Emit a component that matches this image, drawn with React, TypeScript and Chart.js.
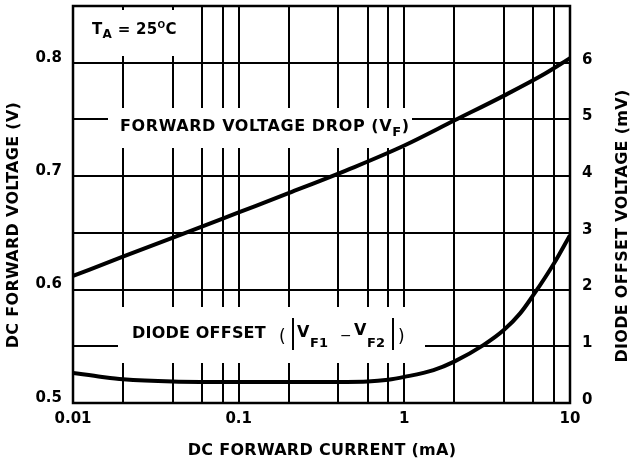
import { useEffect, useRef } from "react";
import { Chart, registerables } from "chart.js";

Chart.register(...registerables);

const FONT = '"DejaVu Sans"';

// Forward voltage drop V_F (V) vs DC forward current (mA)
const vfCurrent = [0.01, 0.02, 0.05, 0.1, 0.2, 0.5, 1, 2, 4, 7, 10];
const vfVoltage = [0.612, 0.629, 0.651, 0.668, 0.685, 0.708, 0.727, 0.749, 0.771, 0.79, 0.804];

// Diode offset |VF1 - VF2| (mV) vs DC forward current (mA)
const offCurrent = [0.01, 0.015, 0.02, 0.04, 0.1, 0.3, 0.6, 0.8, 1, 1.5, 2, 3, 4, 5, 6, 8, 10];
const offMillivolt = [0.53, 0.46, 0.42, 0.38, 0.37, 0.37, 0.38, 0.41, 0.46, 0.58, 0.73, 1.02, 1.29, 1.58, 1.9, 2.46, 2.96];

const currentGrid = [0.01, 0.02, 0.04, 0.06, 0.08, 0.1, 0.2, 0.4, 0.6, 0.8, 1, 2, 4, 6, 8, 10];
const currentTickLabels = ["0.01", "", "", "", "", "0.1", "", "", "", "", "1", "", "", "", "", "10"];
const voltGrid = [0.5, 0.55, 0.6, 0.65, 0.7, 0.75, 0.8, 0.85];
const voltTickLabels = ["0.5", "", "0.6", "", "0.7", "", "0.8", ""];
const offsetGrid = [0, 1, 2, 3, 4, 5, 6, 7];
const offsetTickLabels = ["0", "1", "2", "3", "4", "5", "6", ""];

const xTitle = "DC FORWARD CURRENT (mA)";
const yTitle = "DC FORWARD VOLTAGE (V)";
const y1Title = "DIODE OFFSET VOLTAGE (mV)";

const f = (size: number, weight = "bold") => `${weight} ${size}px ${FONT}`;

// draw a run of text pieces left to right, returns end x
const run = (ctx: any, x: number, parts: [string, string, number][]) => {
  let cx = x;
  for (const [t, font, y] of parts) {
    ctx.font = font;
    ctx.fillText(t, cx, y);
    cx += ctx.measureText(t).width;
  }
  return cx;
};

const annotate = {
  id: "annotate",
  beforeDatasetsDraw(chart: any) {
    const { ctx, chartArea: a } = chart;
    ctx.save();
    // white label boxes covering grid
    ctx.fillStyle = "#fff";
    ctx.fillRect(a.left + 2, a.top + 4, 123, 46);
    ctx.fillRect(108, 108, 304, 40);
    ctx.fillRect(118, 307, 307, 56);
    // frame
    ctx.strokeStyle = "#000";
    ctx.lineWidth = 2.5;
    ctx.strokeRect(a.left, a.top, a.right - a.left, a.bottom - a.top);

    ctx.fillStyle = "#000";
    ctx.textBaseline = "alphabetic";
    ctx.textAlign = "left";

    // T_A = 25°C
    ctx.letterSpacing = "0.3px";
    run(ctx, 92, [
      ["T", f(15), 34],
      ["A", f(12), 38],
      [" = 25", f(15), 34],
      ["O", f(9), 28],
      ["C", f(15), 34],
    ]);

    // FORWARD VOLTAGE DROP (V_F)
    ctx.letterSpacing = "0.6px";
    run(ctx, 120, [
      ["FORWARD VOLTAGE DROP (V", f(16), 131],
      ["F", f(13), 136],
      [")", f(16), 131],
    ]);

    // DIODE OFFSET (|VF1 - VF2|)
    ctx.letterSpacing = "0.2px";
    ctx.font = f(16);
    ctx.fillText("DIODE OFFSET", 132, 338);
    ctx.letterSpacing = "0px";
    ctx.font = f(17, "normal");
    ctx.fillText("(", 279, 342);
    ctx.fillRect(292, 318, 2, 32);
    ctx.font = f(16);
    ctx.fillText("V", 297, 337);
    ctx.font = f(13);
    ctx.fillText("F1", 310, 347);
    ctx.font = f(14, "normal");
    ctx.fillText("\u2212", 340, 340);
    ctx.font = f(16);
    ctx.fillText("V", 354, 335);
    ctx.font = f(13);
    ctx.fillText("F2", 367, 347);
    ctx.fillRect(392, 318, 2, 32);
    ctx.font = f(17, "normal");
    ctx.fillText(")", 398, 342);
    ctx.restore();
  },
  afterDraw(chart: any) {
    const { ctx } = chart;
    const title = (t: string, x: number, y: number, rot: number) => {
      ctx.save();
      ctx.fillStyle = "#000";
      ctx.font = f(16);
      ctx.letterSpacing = "0.3px";
      ctx.textAlign = "center";
      ctx.textBaseline = "middle";
      ctx.translate(x, y);
      ctx.rotate(rot);
      ctx.fillText(t, 0, 0);
      ctx.restore();
    };
    title(xTitle, 322, 451, 0);
    title(yTitle, 14, 225, -Math.PI / 2);
    title(y1Title, 623, 226, -Math.PI / 2);
  },
};

export default function App() {
  const ref = useRef<HTMLCanvasElement>(null);

  useEffect(() => {
    if (!ref.current) return;
    const tickFont = { family: FONT, size: 15, weight: "bold" as const };
    const chart = new Chart(ref.current, {
      type: "line",
      data: {
        datasets: [
          {
            label: "VF",
            data: vfCurrent.map((c, i) => ({ x: c, y: vfVoltage[i] })),
            yAxisID: "y",
            borderColor: "#000",
            borderWidth: 4,
            pointRadius: 0,
            cubicInterpolationMode: "monotone",
          },
          {
            label: "Offset",
            data: offCurrent.map((c, i) => ({ x: c, y: offMillivolt[i] })),
            yAxisID: "y1",
            borderColor: "#000",
            borderWidth: 4,
            pointRadius: 0,
            cubicInterpolationMode: "monotone",
          },
        ],
      },
      options: {
        responsive: false,
        animation: false,
        layout: { padding: { top: 6, left: 0, right: 0, bottom: 0 } },
        plugins: { legend: { display: false }, tooltip: { enabled: false } },
        scales: {
          x: {
            type: "logarithmic",
            min: 0.01,
            max: 10,
            afterBuildTicks: (s: any) => {
              s.ticks = currentGrid.map((v) => ({ value: v }));
            },
            afterFit: (s: any) => {
              s.height = 58;
              s.paddingLeft = 0;
              s.paddingRight = 0;
            },
            ticks: {
              autoSkip: false,
              maxRotation: 0,
              color: "#000",
              font: tickFont,
              padding: 7,
              callback: (_v: any, i: number) => currentTickLabels[i],
            },
            grid: { color: "#000", lineWidth: 2, drawTicks: false },
            border: { display: true, color: "#000", width: 2 },
          },
          y: {
            type: "linear",
            position: "left",
            min: 0.5,
            max: 0.85,
            afterBuildTicks: (s: any) => {
              s.ticks = voltGrid.map((v) => ({ value: v }));
            },
            afterFit: (s: any) => {
              s.width = 73;
              s.paddingTop = 0;
              s.paddingBottom = 0;
            },
            ticks: {
              autoSkip: false,
              color: "#000",
              font: tickFont,
              padding: 11,
              labelOffset: -5,
              callback: (_v: any, i: number) => voltTickLabels[i],
            },
            grid: { color: "#000", lineWidth: 2, drawTicks: false },
            border: { display: true, color: "#000", width: 2 },
          },
          y1: {
            type: "linear",
            position: "right",
            min: 0,
            max: 7,
            afterBuildTicks: (s: any) => {
              s.ticks = offsetGrid.map((v) => ({ value: v }));
            },
            afterFit: (s: any) => {
              s.width = 64;
              s.paddingTop = 0;
              s.paddingBottom = 0;
            },
            ticks: {
              autoSkip: false,
              color: "#000",
              font: tickFont,
              padding: 12,
              labelOffset: -3,
              callback: (_v: any, i: number) => offsetTickLabels[i],
            },
            grid: { display: false, drawTicks: false },
            border: { display: true, color: "#000", width: 2 },
          },
        },
      },
      plugins: [annotate],
    } as any);
    return () => chart.destroy();
  }, []);

  return (
    <div style={{ position: "absolute", left: 0, top: 0, width: 634, height: 461, background: "#fff" }}>
      <canvas ref={ref} width={634} height={461} />
    </div>
  );
}
